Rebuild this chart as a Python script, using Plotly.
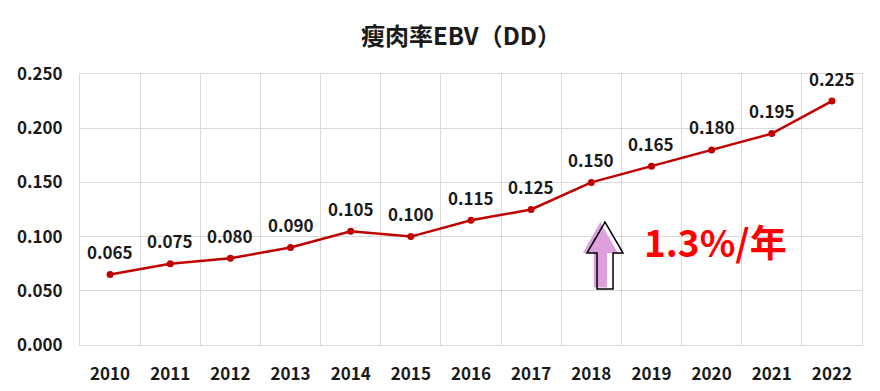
import plotly.graph_objects as go

years = ["2010", "2011", "2012", "2013", "2014", "2015", "2016",
         "2017", "2018", "2019", "2020", "2021", "2022"]
ebv = [0.065, 0.075, 0.080, 0.090, 0.105, 0.100, 0.115,
       0.125, 0.150, 0.165, 0.180, 0.195, 0.225]
y_ticks = [0.0, 0.05, 0.10, 0.15, 0.20, 0.25]
title_text = "瘦肉率EBV（DD）"
trend_text = "1.3%/年"

FONT = "Noto Sans CJK SC"
LINE = "#C00000"
GRID = "#D9D9D9"
TXT = "#1A1A1A"

fig = go.Figure()
fig.add_trace(go.Scatter(
    x=years, y=ebv, mode="lines+markers",
    line=dict(color=LINE, width=2.5),
    marker=dict(color=LINE, size=7),
    hoverinfo="x+y", showlegend=False,
))

annotations = []
for i, v in enumerate(ebv):
    annotations.append(dict(
        x=i, y=v, xref="x", yref="y", text=f"<b>{v:.3f}</b>",
        showarrow=False, yshift=23, yanchor="middle",
        font=dict(family=FONT, size=17, color=TXT),
    ))
annotations.append(dict(
    x=0.487, y=1.144, xref="paper", yref="paper", xanchor="center", yanchor="middle",
    text=f"<b>{title_text}</b>", showarrow=False,
    font=dict(family=FONT, size=24, color=TXT),
))
annotations.append(dict(
    x=10.07, y=0.0955, xref="x", yref="y", xanchor="center", yanchor="middle",
    text=f"<b>{trend_text}</b>", showarrow=False,
    font=dict(family=FONT, size=37, color="#FF0000"),
))

# up arrow decoration (pink shadow + black outline), in axis units
def arrow_path(cx, hw, sw, top, base, bottom):
    return (f"M {cx} {top} L {cx+hw} {base} L {cx+sw} {base} L {cx+sw} {bottom} "
            f"L {cx-sw} {bottom} L {cx-sw} {base} L {cx-hw} {base} Z")

shapes = [
    dict(type="path", xref="x", yref="y",
         path=arrow_path(8.15, 0.29, 0.11, 0.1134, 0.0848, 0.0530),
         fillcolor="#DDA0DD", line=dict(width=0), layer="above"),
    dict(type="path", xref="x", yref="y",
         path=arrow_path(8.228, 0.30, 0.133, 0.1134, 0.0848, 0.0516),
         fillcolor="rgba(0,0,0,0)", line=dict(color="black", width=1.5), layer="above"),
]

# page body has an 8px margin, so the figure is drawn 8px smaller
fig.update_layout(
    width=872, height=383,
    margin=dict(l=72, r=18, t=66, b=46, autoexpand=False),
    paper_bgcolor="white", plot_bgcolor="white",
    annotations=annotations, shapes=shapes,
    xaxis=dict(
        type="category", range=[-0.5, 12.5], tickson="boundaries",
        showgrid=True, gridcolor=GRID, gridwidth=1,
        showline=True, linecolor=GRID, linewidth=1, mirror=True,
        ticks="", ticklabelstandoff=14, automargin=False,
        tickfont=dict(family=FONT, size=17, color=TXT, weight="bold"),
        zeroline=False, fixedrange=True,
    ),
    yaxis=dict(
        range=[0, 0.25], tickvals=y_ticks, tickformat=".3f",
        showgrid=True, gridcolor=GRID, gridwidth=1,
        showline=True, linecolor=GRID, linewidth=1, mirror=True,
        ticks="", ticklabelstandoff=13, automargin=False,
        tickfont=dict(family=FONT, size=17, color=TXT, weight="bold"),
        zeroline=False, fixedrange=True,
    ),
)

fig.write_html("out.html")
